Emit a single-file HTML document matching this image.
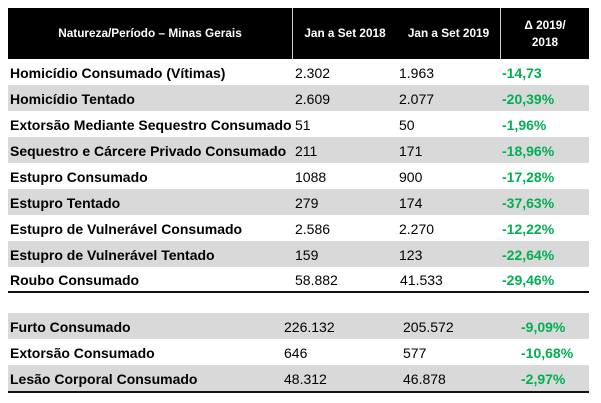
<!DOCTYPE html>
<html>
<head>
<meta charset="utf-8">
<style>
  html,body{margin:0;padding:0;background:#fff;}
  body{width:601px;height:403px;position:relative;overflow:hidden;font-family:"Liberation Sans",Arial,sans-serif;}
  .hdr{position:absolute;left:8px;top:8px;width:581px;height:51px;background:#000;}
  .vd{position:absolute;top:8px;width:1px;height:51px;background:#d0d0d0;}
  .ht{position:absolute;color:#fff;font-weight:bold;font-size:11.8px;text-align:center;line-height:16.5px;}
  .g{position:absolute;left:8px;width:581px;background:#d9d9d9;}
  .line{position:absolute;left:8px;width:581px;height:2px;background:#111;}
  .t{position:absolute;font-size:14px;line-height:26px;color:#000;white-space:nowrap;}
  .b{font-weight:bold;}
  .gr{color:#00b050;font-weight:bold;}
</style>
</head>
<body>
<div class="hdr"></div>
<div class="vd" style="left:292px"></div>
<div class="vd" style="left:500px"></div>
<div class="ht" style="left:8px;width:284px;top:25px;">Natureza/Período – Minas Gerais</div>
<div class="ht" style="left:293px;width:104px;top:25px;">Jan a Set 2018</div>
<div class="ht" style="left:397px;width:103px;top:25px;">Jan a Set 2019</div>
<div class="ht" style="left:501px;width:88px;top:17px;">Δ 2019/<br>2018</div>

<!-- gray bands upper -->
<div class="g" style="top:85px;height:26px;"></div>
<div class="g" style="top:137px;height:26px;"></div>
<div class="g" style="top:189px;height:26px;"></div>
<div class="g" style="top:241px;height:26px;"></div>
<div class="line" style="top:291px;"></div>

<!-- gray bands lower -->
<div class="g" style="top:313px;height:26px;"></div>
<div class="g" style="top:365px;height:26px;"></div>
<div class="line" style="top:391px;"></div>

<!-- upper rows -->
<div class="t b" style="left:10px;top:60px;">Homicídio Consumado (Vítimas)</div>
<div class="t" style="left:295px;top:60px;">2.302</div>
<div class="t" style="left:399px;top:60px;">1.963</div>
<div class="t gr" style="left:502px;top:60px;">-14,73</div>

<div class="t b" style="left:10px;top:86px;">Homicídio Tentado</div>
<div class="t" style="left:295px;top:86px;">2.609</div>
<div class="t" style="left:399px;top:86px;">2.077</div>
<div class="t gr" style="left:502px;top:86px;">-20,39%</div>

<div class="t b" style="left:10px;top:112px;">Extorsão Mediante Sequestro Consumado</div>
<div class="t" style="left:295px;top:112px;">51</div>
<div class="t" style="left:399px;top:112px;">50</div>
<div class="t gr" style="left:502px;top:112px;">-1,96%</div>

<div class="t b" style="left:10px;top:138px;">Sequestro e Cárcere Privado Consumado</div>
<div class="t" style="left:295px;top:138px;">211</div>
<div class="t" style="left:399px;top:138px;">171</div>
<div class="t gr" style="left:502px;top:138px;">-18,96%</div>

<div class="t b" style="left:10px;top:164px;">Estupro Consumado</div>
<div class="t" style="left:295px;top:164px;">1088</div>
<div class="t" style="left:399px;top:164px;">900</div>
<div class="t gr" style="left:502px;top:164px;">-17,28%</div>

<div class="t b" style="left:10px;top:190px;">Estupro Tentado</div>
<div class="t" style="left:295px;top:190px;">279</div>
<div class="t" style="left:399px;top:190px;">174</div>
<div class="t gr" style="left:502px;top:190px;">-37,63%</div>

<div class="t b" style="left:10px;top:216px;">Estupro de Vulnerável Consumado</div>
<div class="t" style="left:295px;top:216px;">2.586</div>
<div class="t" style="left:399px;top:216px;">2.270</div>
<div class="t gr" style="left:502px;top:216px;">-12,22%</div>

<div class="t b" style="left:10px;top:242px;">Estupro de Vulnerável Tentado</div>
<div class="t" style="left:295px;top:242px;">159</div>
<div class="t" style="left:399px;top:242px;">123</div>
<div class="t gr" style="left:502px;top:242px;">-22,64%</div>

<div class="t b" style="left:10px;top:267px;">Roubo Consumado</div>
<div class="t" style="left:295px;top:267px;">58.882</div>
<div class="t" style="left:400px;top:267px;">41.533</div>
<div class="t gr" style="left:502px;top:267px;">-29,46%</div>

<!-- lower rows -->
<div class="t b" style="left:10px;top:314px;">Furto Consumado</div>
<div class="t" style="left:284px;top:314px;">226.132</div>
<div class="t" style="left:403px;top:314px;">205.572</div>
<div class="t gr" style="left:521px;top:314px;">-9,09%</div>

<div class="t b" style="left:10px;top:340px;">Extorsão Consumado</div>
<div class="t" style="left:284px;top:340px;">646</div>
<div class="t" style="left:403px;top:340px;">577</div>
<div class="t gr" style="left:521px;top:340px;">-10,68%</div>

<div class="t b" style="left:10px;top:366px;">Lesão Corporal Consumado</div>
<div class="t" style="left:284px;top:366px;">48.312</div>
<div class="t" style="left:403px;top:366px;">46.878</div>
<div class="t gr" style="left:521px;top:366px;">-2,97%</div>
</body>
</html>
